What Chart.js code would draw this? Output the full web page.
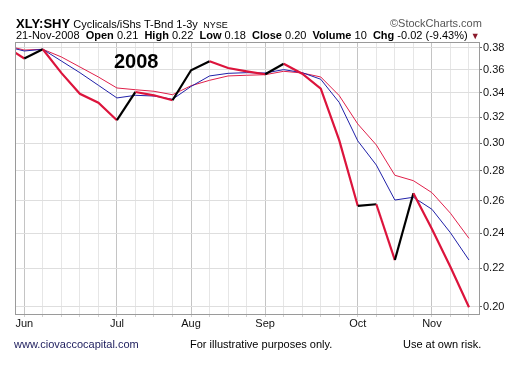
<!DOCTYPE html>
<html>
<head>
<meta charset="utf-8">
<script src="https://cdn.jsdelivr.net/npm/chart.js@4/dist/chart.umd.min.js"></script>
<style>
  body { margin: 0; background: #fff; }
  #wrap { position: relative; width: 520px; height: 370px; font-family: "Liberation Sans", Arial, sans-serif; color: #000; }
  #wrap canvas { position: absolute; left: 0; top: 0; }
  .t { position: absolute; white-space: nowrap; }
  .b { font-weight: bold; }
</style>
</head>
<body>
<div id="wrap">
  <canvas id="chart" width="520" height="370"></canvas>
  <div class="t" style="left:16px; top:16px; font-size:11px;">
    <span class="b" style="font-size:13px;">XLY:SHY</span> Cyclicals/iShs T-Bnd 1-3y <span style="font-size:9px;">&nbsp;NYSE</span>
  </div>
  <div class="t" style="left:390px; top:17px; font-size:11px; color:#555;">&#169;StockCharts.com</div>
  <div class="t" style="left:16px; top:29px; font-size:11px;">
    21-Nov-2008 &nbsp;<span class="b">Open</span> 0.21 &nbsp;<span class="b">High</span> 0.22 &nbsp;<span class="b">Low</span> 0.18 &nbsp;<span class="b">Close</span> 0.20 &nbsp;<span class="b">Volume</span> 10 &nbsp;<span class="b">Chg</span> -0.02 (-9.43%) <span style="color:#8b1a2b; font-size:9px;">&#9660;</span>
  </div>
  <div class="t b" style="left:114px; top:50px; font-size:20px;">2008</div>
  <div class="t" style="left:14px; top:338px; font-size:11px; color:#1c1c5c;">www.ciovaccocapital.com</div>
  <div class="t" style="left:190px; top:338px; font-size:11px;">For illustrative purposes only.</div>
  <div class="t" style="left:403px; top:338px; font-size:11px;">Use at own risk.</div>
</div>
<script>
// weekly closes, XLY:SHY ratio, weeks starting Monday
const weeks = ['2008-05-26', '2008-06-02', '2008-06-09', '2008-06-16', '2008-06-23', '2008-06-30',
  '2008-07-07', '2008-07-14', '2008-07-21', '2008-07-28', '2008-08-04', '2008-08-11', '2008-08-18',
  '2008-08-25', '2008-09-01', '2008-09-08', '2008-09-15', '2008-09-22', '2008-09-29', '2008-10-06',
  '2008-10-13', '2008-10-20', '2008-10-27', '2008-11-03', '2008-11-10', '2008-11-17'];
const price = [0.381, 0.370, 0.3785, 0.357, 0.339, 0.3315, 0.3175, 0.3405, 0.3377, 0.3336, 0.3593,
  0.3674, 0.3613, 0.3584, 0.3558, 0.3652, 0.3563, 0.3433, 0.302, 0.2567, 0.2578, 0.2245, 0.2649,
  0.2425, 0.2207, 0.1997];
const maFast = [0.3812, 0.3769, 0.3785, 0.3677, 0.3572, 0.3462, 0.3355, 0.3377, 0.3371, 0.3344, 0.3452,
  0.3543, 0.3566, 0.3572, 0.3569, 0.3599, 0.3572, 0.3514, 0.3317, 0.3016, 0.2841, 0.2605, 0.2623,
  0.2546, 0.2402, 0.2245];
const maSlow = [0.3821, 0.3778, 0.3785, 0.3714, 0.3623, 0.3534, 0.3439, 0.3424, 0.3411, 0.3382, 0.3458,
  0.3505, 0.3543, 0.3549, 0.3554, 0.3584, 0.3569, 0.3534, 0.3374, 0.3145, 0.2986, 0.2770, 0.2733,
  0.2653, 0.2521, 0.2369];
const yTicks = [0.20, 0.22, 0.24, 0.26, 0.28, 0.30, 0.32, 0.34, 0.36, 0.38];
const monthWeeks = ['2008-06-02', '2008-07-07', '2008-08-04', '2008-09-01', '2008-10-06', '2008-11-03'];
const monthLabels = ['Jun', 'Jul', 'Aug', 'Sep', 'Oct', 'Nov'];

const toPoints = arr => arr.map((v, i) => ({ x: i, y: v }));
const monthIdx = monthWeeks.map(w => weeks.indexOf(w));

const frame = {
  id: 'frame',
  afterDraw(chart) {
    const a = chart.chartArea, c = chart.ctx;
    c.save();
    c.strokeStyle = '#9a9a9a';
    c.lineWidth = 1;
    c.strokeRect(Math.round(a.left) + 0.5, Math.round(a.top) + 0.5, Math.round(a.right - a.left), Math.round(a.bottom - a.top));
    c.restore();
  }
};

new Chart(document.getElementById('chart').getContext('2d'), {
  type: 'line',
  data: {
    datasets: [
      {
        data: toPoints(price),
        borderWidth: 2.2,
        borderColor: '#dc143c',
        segment: {
          borderColor: ctx => ctx.p1.parsed.y > ctx.p0.parsed.y ? '#000000' : '#dc143c'
        },
        pointRadius: 0,
        tension: 0,
        clip: 0
      },
      {
        data: toPoints(maFast),
        borderWidth: 1,
        borderColor: '#2020a8',
        pointRadius: 0,
        tension: 0,
        clip: 0
      },
      {
        data: toPoints(maSlow),
        borderWidth: 1,
        borderColor: '#e0204a',
        pointRadius: 0,
        tension: 0,
        clip: 0
      }
    ]
  },
  options: {
    responsive: false,
    animation: false,
    layout: { padding: { left: 15, top: 42, right: 0, bottom: 0 } },
    plugins: { legend: { display: false }, tooltip: { enabled: false } },
    scales: {
      x: {
        type: 'linear',
        min: 0.5,
        max: 25.54,
        afterBuildTicks: scale => {
          scale.ticks = weeks.map((w, i) => ({ value: i })).filter(t => t.value >= 1);
        },
        afterFit: scale => { scale.height = 56; },
        grid: {
          color: ctx => monthIdx.includes(ctx.tick && ctx.tick.value) ? '#c4c4c4' : '#e6e6e6',
          tickLength: 3,
          tickColor: '#d0d0d0'
        },
        border: { color: '#9a9a9a' },
        ticks: {
          autoSkip: false,
          maxRotation: 0,
          padding: 0,
          color: '#111',
          font: { family: '"Liberation Sans", Arial, sans-serif', size: 11 },
          callback: v => {
            const k = monthIdx.indexOf(v);
            return k >= 0 ? monthLabels[k] : '';
          }
        }
      },
      y: {
        type: 'logarithmic',
        position: 'right',
        min: 0.1964,
        max: 0.3854,
        afterBuildTicks: scale => { scale.ticks = yTicks.map(v => ({ value: v })); },
        afterFit: scale => { scale.width = 41; },
        grid: { color: '#dedede', tickLength: 3, tickColor: '#666' },
        border: { color: '#9a9a9a' },
        ticks: {
          padding: 1,
          color: '#111',
          font: { family: '"Liberation Sans", Arial, sans-serif', size: 11 },
          callback: v => v.toFixed(2)
        }
      }
    }
  },
  plugins: [frame]
});
</script>
</body>
</html>
